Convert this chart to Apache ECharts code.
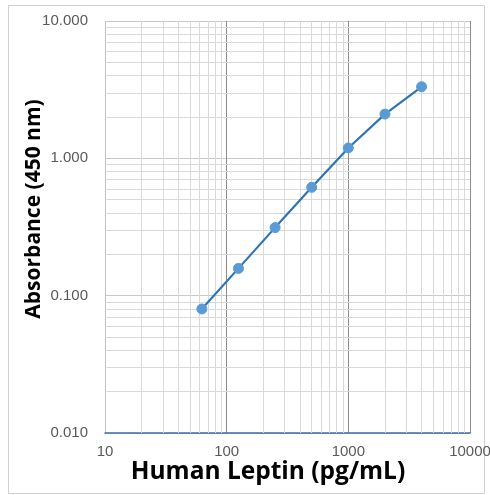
<!DOCTYPE html>
<html>
<head>
<meta charset="utf-8">
<script src="https://cdn.jsdelivr.net/npm/echarts@6/dist/echarts.min.js"></script>
<style>
html,body{margin:0;padding:0;background:#fff;}
#c{width:490px;height:495px;}
</style>
</head>
<body>
<div id="c"></div>
<script>
// Data
const concentrations = [62.5, 125, 250, 500, 1000, 2000, 4000];   // pg/mL
const absorbance    = [0.080, 0.158, 0.313, 0.615, 1.19, 2.10, 3.32]; // OD 450 nm
const xTickLabels = ['10', '100', '1000', '10000'];
const yTickLabels = ['0.010', '0.100', '1.000', '10.000'];
const xTitle = 'Human Leptin (pg/mL)';
const yTitle = 'Absorbance (450 nm)';

const points = concentrations.map((c, i) => [c, absorbance[i]]);

// minor gridline values (2..9 of each decade)
const xMinor = [], yMinor = [];
[10, 100, 1000].forEach(d => { for (let k = 2; k <= 9; k++) xMinor.push(d * k); });
[0.01, 0.1, 1].forEach(d => { for (let k = 2; k <= 9; k++) yMinor.push(+(d * k).toPrecision(3)); });

const chart = echarts.init(document.getElementById('c'), null, {renderer: 'canvas'});
const labelFont = '"Liberation Sans", Arial, sans-serif';
const titleFont = '"Open Sans", "Liberation Sans", sans-serif';

chart.setOption({
  animation: false,
  backgroundColor: '#fff',
  graphic: [
    {
      type: 'rect',
      shape: {x: 8.5, y: 5.5, width: 476, height: 488},
      style: {fill: 'none', stroke: '#d0d0d0', lineWidth: 1},
      silent: true, z: -10
    },
    {
      type: 'text', x: 268, y: 472, silent: true,
      style: {text: xTitle, font: 'bold 24.5px ' + titleFont, fill: '#000', align: 'center', verticalAlign: 'middle'}
    },
    {
      type: 'text', x: 34, y: 209, rotation: Math.PI / 2, silent: true,
      style: {text: yTitle, font: 'bold 21px ' + titleFont, fill: '#000', align: 'center', verticalAlign: 'middle'}
    }
  ],
  grid: {left: 105, right: 20, top: 21, bottom: 62, containLabel: false, outerBoundsMode: 'none'},
  xAxis: {
    type: 'log', logBase: 10, min: 10, max: 10000,
    axisLine: {show: true, lineStyle: {color: '#3a6ea8', width: 1.5}},
    axisTick: {show: false},
    axisLabel: {
      fontFamily: labelFont, fontSize: 15, color: '#595959', margin: 11,
      formatter: v => {
        const i = Math.round(Math.log10(v)) - 1;
        return xTickLabels[i] !== undefined ? xTickLabels[i] : '';
      }
    },
    splitLine: {show: true, lineStyle: {color: ['#c4c4c4', '#8c8c8c', '#8c8c8c', '#8c8c8c'], width: 1}}
  },
  yAxis: {
    type: 'log', logBase: 10, min: 0.01, max: 10,
    axisLine: {show: false},
    axisTick: {show: false},
    axisLabel: {
      fontFamily: labelFont, fontSize: 15, color: '#595959', margin: 17,
      formatter: v => {
        const i = Math.round(Math.log10(v)) + 2;
        return yTickLabels[i] !== undefined ? yTickLabels[i] : '';
      }
    },
    splitLine: {show: true, lineStyle: {color: '#c8c8c8', width: 1}}
  },
  series: [
    {
      type: 'line', data: [], silent: true, z: 1,
      markLine: {
        silent: true, symbol: ['none', 'none'], animation: false,
        label: {show: false},
        lineStyle: {type: 'solid', color: '#d9d9d9', width: 1},
        emphasis: {disabled: true},
        data: xMinor.map(v => ({xAxis: v})).concat(yMinor.map(v => ({yAxis: v})))
      }
    },
    {
      type: 'line', data: points, z: 5,
      symbol: 'circle', symbolSize: 10,
      lineStyle: {color: '#2e75b6', width: 2.2},
      itemStyle: {color: '#5b9bd5', borderColor: '#5b9bd5'}
    }
  ]
});
</script>
</body>
</html>
